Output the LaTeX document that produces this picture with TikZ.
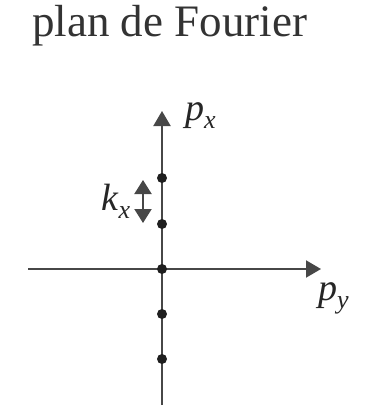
\documentclass[tikz,border=0pt]{standalone}
\usepackage{fontspec}
\setmainfont{Liberation Serif}
\usetikzlibrary{arrows.meta}
\newcommand{\indice}[2]{\textit{#1}\raisebox{-0.22em}{\fontsize{26}{26}\selectfont\textit{#2}}}
\begin{document}
\begin{tikzpicture}[x=1pt, y=-1pt, >={Triangle[length=15pt,width=17pt]},
  axe/.style={line width=2pt, draw=black!72},
  pt/.style={circle, fill=black!88, inner sep=0pt, minimum size=10pt},
  lab/.style={font=\fontsize{38}{38}\selectfont, text=black!85, inner sep=0pt, anchor=base west}]
\useasboundingbox (0,0) rectangle (378,408);
\node[anchor=base west, inner sep=0pt, font=\fontsize{45}{45}\selectfont\rmfamily, text=black!80] (titre) at (32,36) {plan de Fourier};
% axes
\coordinate (O) at (162,269);
\coordinate (bas) at (162,405);
\coordinate (haut) at (162,111);
\coordinate (gauche) at (28,269);
\coordinate (droite) at (321,269);
\draw[axe,->] (gauche) -- (droite);
\draw[axe,->] (bas) -- (haut);
% points du reseau
\foreach \n/\y in {a/178,b/224,o/269,c/314,d/359}
  \node[pt] (\n) at (162,\y) {};
% pas k_x
\coordinate (kh) at (143,180);
\coordinate (kb) at (143,223);
\draw[axe,<->,>={Triangle[length=14pt,width=17pt]}] (kh) -- (kb);
\node[lab] (kx) at (101,210) {\indice{k}{x}};
\node[lab] (px) at (185,120) {\indice{p}{x}};
\node[lab] (py) at (318,300) {\indice{p}{y}};
\end{tikzpicture}
\end{document}
